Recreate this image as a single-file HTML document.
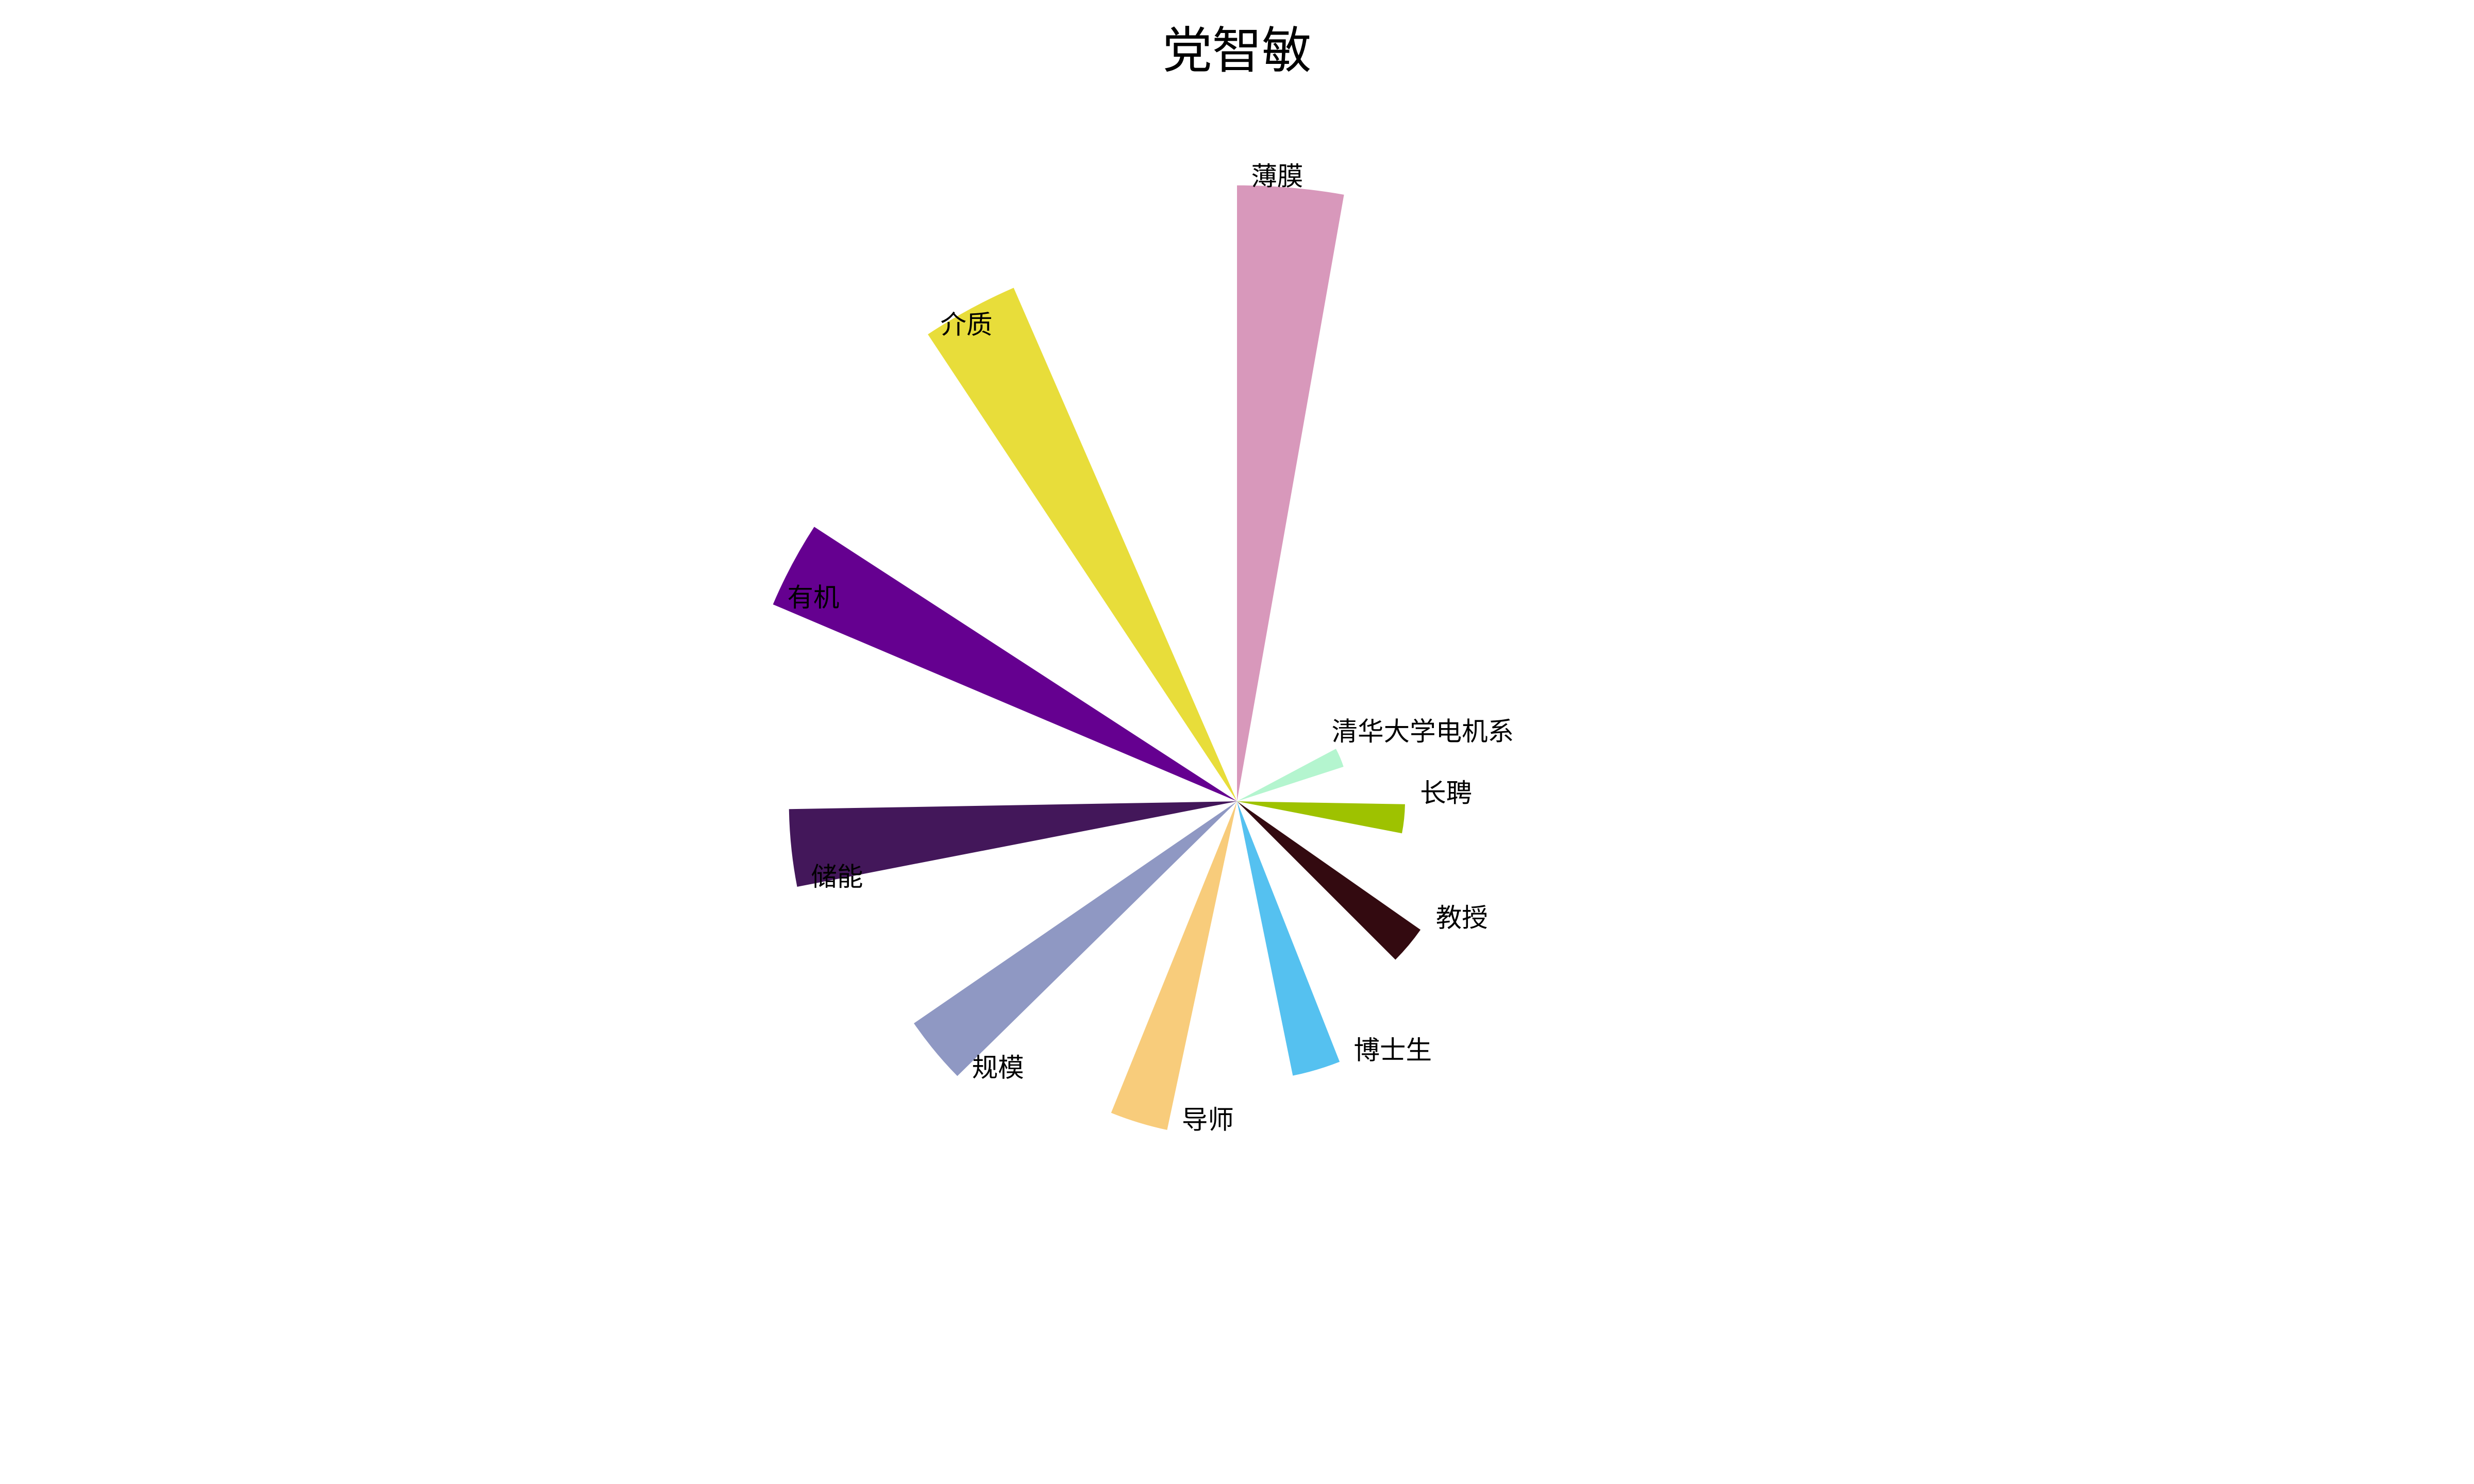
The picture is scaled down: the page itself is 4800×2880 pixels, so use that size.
<!DOCTYPE html>
<html><head><meta charset="utf-8"><style>
html,body{margin:0;padding:0;background:#fff;}
svg{display:block;}
text{font-family:"Liberation Sans","Noto Sans CJK SC",sans-serif;}
</style></head><body>
<svg id="chart" width="4800" height="2880" viewBox="0 0 1568 940.8" xmlns="http://www.w3.org/2000/svg">
<rect width="1568" height="940.8" fill="#fff"/>
<text x="784" y="43" font-size="31.5" text-anchor="middle">党智敏</text>
<g id="bars"></g>
<g id="labels"></g>
</svg>
<script>
const categories = ["薄膜","清华大学电机系","长聘","教授","博士生","导师","规模","储能","有机","介质"];
const values = [11, 2.0, 3, 4, 5, 6, 7, 8, 9, 10];
const anglesDeg = [0, 62, 91, 125, 158.5, 192, 225.5, 259, 293, 326.5];
const colors = ["#d898bb","#b4f5cf","#9ec200","#330a10","#55c1f0","#f8cc7b","#8f98c3","#43175a","#650090","#e8dd3a"];
const cx = 784, cy = 508, unit = 35.5, widthDeg = 10;
const labelPos = [[793,112],[844,464],[900,503],[910,582],[858,666],[749,710],[616,677],[514,556],[499,379],[596,206]];
function rScale(v){return v*unit;}
function pt(deg, r){const a=deg*Math.PI/180;return [cx+r*Math.sin(a), cy-r*Math.cos(a)];}
const ns="http://www.w3.org/2000/svg";
const gb=document.getElementById('bars'), gl=document.getElementById('labels');
categories.forEach((c,i)=>{
  const r=rScale(values[i]);
  const p1=pt(anglesDeg[i],r), p2=pt(anglesDeg[i]+widthDeg,r);
  const path=document.createElementNS(ns,'path');
  path.setAttribute('d',`M${cx},${cy} L${p1[0]},${p1[1]} A${r},${r} 0 0 1 ${p2[0]},${p2[1]} Z`);
  path.setAttribute('fill',colors[i]);
  
  
  gb.appendChild(path);
  const t=document.createElementNS(ns,'text');
  t.setAttribute('x',labelPos[i][0]);
  t.setAttribute('y',labelPos[i][1]+5.5);
  t.setAttribute('font-size','16.5');
  t.textContent=c;
  
  
  gl.appendChild(t);
});
</script>
</body></html>
